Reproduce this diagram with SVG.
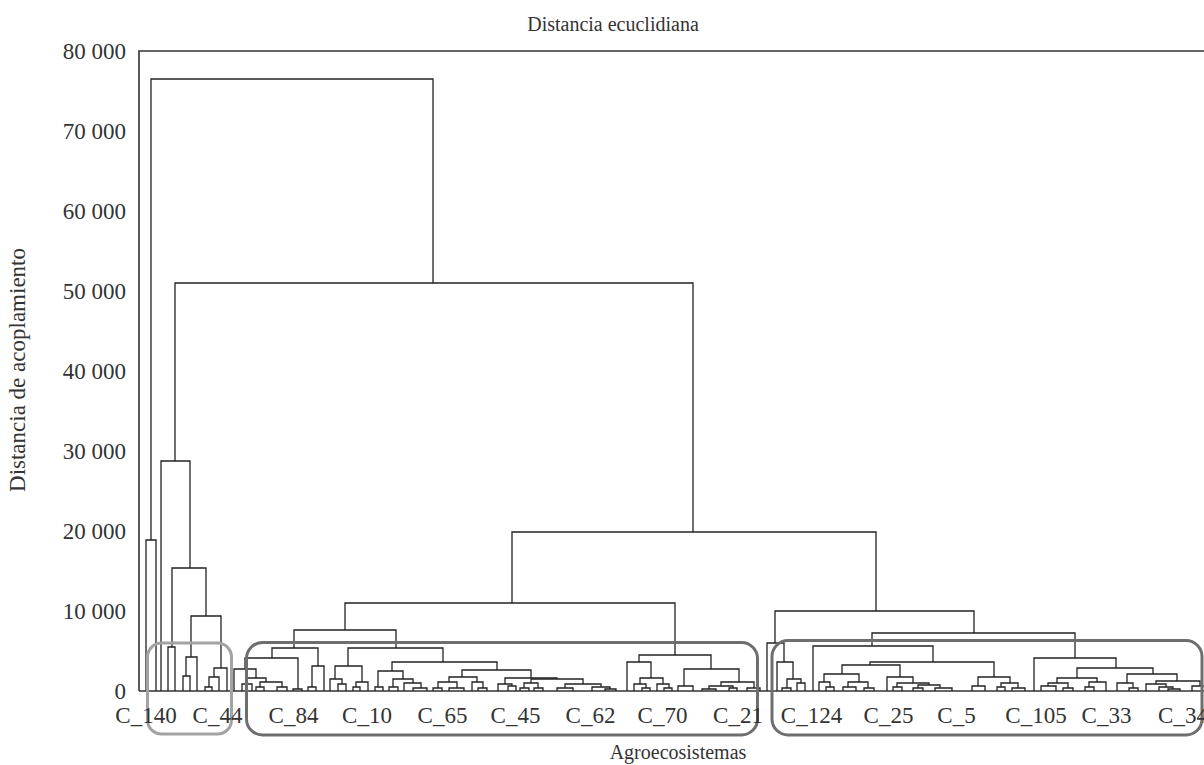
<svg xmlns="http://www.w3.org/2000/svg" width="1204" height="765" viewBox="0 0 1204 765">
<style>
.d{fill:none;stroke:#222;stroke-width:1.3;stroke-linejoin:miter}
.ax{fill:none;stroke:#333;stroke-width:1.6}
.t{font-family:"Liberation Serif",serif;fill:#333}
.tk{font-size:23px;text-anchor:end}
.lb{font-size:23px;text-anchor:middle}
.ti{font-size:20px;text-anchor:middle}
.yl{font-size:23px;text-anchor:middle}
.b1{fill:none;stroke:#a3a3a3;stroke-width:3}
.b2{fill:none;stroke:#6e6e6e;stroke-width:3}
</style>
<rect width="1204" height="765" fill="#fff"/>
<g id="axes">
<path class="ax" d="M139 691V51H1204"/>
<path class="ax" d="M139 691H1204"/>
</g>
<g id="ticks" class="t tk">
<text x="126" y="699">0</text>
<text x="126" y="619">10 000</text>
<text x="126" y="539">20 000</text>
<text x="126" y="459">30 000</text>
<text x="126" y="379">40 000</text>
<text x="126" y="299">50 000</text>
<text x="126" y="219">60 000</text>
<text x="126" y="139">70 000</text>
<text x="126" y="59">80 000</text>
</g>
<g id="titles" class="t">
<text class="ti" x="613" y="31">Distancia ecuclidiana</text>
<text class="ti" x="678" y="759">Agroecosistemas</text>
<text class="yl" transform="translate(25,370) rotate(-90)">Distancia de acoplamiento</text>
</g>
<g id="connectors" class="d">
<path d="M151 540V79H433V283"/>
<path d="M146 691V540H156V691"/>
<path d="M175 461V283H693V532"/>
<path d="M161 691V461H190V568"/>
<path d="M172 647V568H206V616"/>
<path d="M168 691V647H175V691"/>
<path d="M191 657V616H221V668"/>
<path d="M186 676V657H197V691"/>
<path d="M183 691V676H190V691"/>
<path d="M214 677V668H227V691"/>
<path d="M209 687V677H219V691"/>
<path d="M205 691V687H212V691"/>
<path d="M512 603V532H876V611"/>
<path d="M345 630V603H675V655"/>
<path d="M294 648V630H396V648"/>
<path d="M272 658V648H318V666"/>
<path d="M245 669V658H298V689"/>
<path d="M293 691V689H302V691"/>
<path d="M234 691V669H256V678"/>
<path d="M247 684V678H266V682"/>
<path d="M242 691V684H252V691"/>
<path d="M260 687V682H282V687"/>
<path d="M256 691V687H264V691"/>
<path d="M277 691V687H287V691"/>
<path d="M312 687V666H324V691"/>
<path d="M308 691V687H316V691"/>
<path d="M348 666V648H443V662"/>
<path d="M335 679V666H362V682"/>
<path d="M330 691V679H342V684"/>
<path d="M338 691V684H346V691"/>
<path d="M356 687V682H368V691"/>
<path d="M353 691V687H360V691"/>
<path d="M392 671V662H497V670"/>
<path d="M378 687V671H403V679"/>
<path d="M375 691V687H383V691"/>
<path d="M393 687V679H413V683"/>
<path d="M389 691V687H398V691"/>
<path d="M404 691V683H421V688"/>
<path d="M413 691V688H427V691"/>
<path d="M462 677V670H531V678"/>
<path d="M449 682V677H477V682"/>
<path d="M438 688V682H457V688"/>
<path d="M433 691V688H442V691"/>
<path d="M449 691V688H464V691"/>
<path d="M472 691V682H483V688"/>
<path d="M478 691V688H487V691"/>
<path d="M505 684V678H557V679"/>
<path d="M498 691V684H512V686"/>
<path d="M508 691V686H516V691"/>
<path d="M531 683V679H583V684"/>
<path d="M524 688V683H538V688"/>
<path d="M520 691V688H529V691"/>
<path d="M534 691V688H543V691"/>
<path d="M565 688V684H601V687"/>
<path d="M557 691V688H573V691"/>
<path d="M592 691V687H610V689"/>
<path d="M605 691V689H616V691"/>
<path d="M639 662V655H711V669"/>
<path d="M627 691V662H651V678"/>
<path d="M640 684V678H663V684"/>
<path d="M634 691V684H646V688"/>
<path d="M642 691V688H650V691"/>
<path d="M657 691V684H669V688"/>
<path d="M664 691V688H672V691"/>
<path d="M684 686V669H739V682"/>
<path d="M678 691V686H693V691"/>
<path d="M721 686V682H754V688"/>
<path d="M709 689V686H733V688"/>
<path d="M702 691V689H716V691"/>
<path d="M729 691V688H737V691"/>
<path d="M747 691V688H760V691"/>
<path d="M775 643V611H974V633"/>
<path d="M767 691V643H784V662"/>
<path d="M777 691V662H793V679"/>
<path d="M787 688V679H801V683"/>
<path d="M782 691V688H791V691"/>
<path d="M797 691V683H805V691"/>
<path d="M872 646V633H1075V658"/>
<path d="M813 691V646H933V662"/>
<path d="M870 665V662H994V677"/>
<path d="M842 674V665H900V677"/>
<path d="M824 682V674H859V682"/>
<path d="M819 691V682H830V687"/>
<path d="M826 691V687H834V691"/>
<path d="M848 687V682H868V688"/>
<path d="M843 691V687H856V691"/>
<path d="M864 691V688H874V691"/>
<path d="M887 691V677H913V683"/>
<path d="M897 687V683H929V685"/>
<path d="M893 691V687H902V691"/>
<path d="M918 688V685H940V688"/>
<path d="M913 691V688H923V691"/>
<path d="M935 691V688H952V691"/>
<path d="M978 686V677H1010V683"/>
<path d="M972 691V686H985V691"/>
<path d="M1001 687V683H1018V688"/>
<path d="M997 691V687H1005V691"/>
<path d="M1012 691V688H1025V691"/>
<path d="M1034 691V658H1116V668"/>
<path d="M1077 678V668H1153V674"/>
<path d="M1057 683V678H1097V682"/>
<path d="M1048 686V683H1068V688"/>
<path d="M1041 691V686H1056V691"/>
<path d="M1063 691V688H1073V691"/>
<path d="M1089 687V682H1106V691"/>
<path d="M1085 691V687H1094V691"/>
<path d="M1127 683V674H1177V681"/>
<path d="M1117 691V683H1133V688"/>
<path d="M1129 691V688H1138V691"/>
<path d="M1156 684V681H1200V686"/>
<path d="M1146 691V684H1166V687"/>
<path d="M1159 691V687H1173V689"/>
<path d="M1168 691V689H1180V691"/>
<path d="M1192 691V686H1208V691"/>
</g>
<g id="group-a"><rect class="b1" x="147.5" y="643" width="84" height="91" rx="14"/></g>
<g id="group-b"><rect class="b2" x="246.5" y="642.5" width="511" height="92.5" rx="16"/></g>
<g id="group-c"><rect class="b2" x="772" y="640.5" width="430" height="94.5" rx="16"/></g>
<g id="labels" class="t lb">
<text x="146" y="723">C_140</text>
<text x="217.5" y="723">C_44</text>
<text x="293.5" y="723">C_84</text>
<text x="367" y="723">C_10</text>
<text x="442.5" y="723">C_65</text>
<text x="515.5" y="723">C_45</text>
<text x="590.5" y="723">C_62</text>
<text x="662.5" y="723">C_70</text>
<text x="738" y="723">C_21</text>
<text x="811.5" y="723">C_124</text>
<text x="888.5" y="723">C_25</text>
<text x="956.5" y="723">C_5</text>
<text x="1036" y="723">C_105</text>
<text x="1106.5" y="723">C_33</text>
<text x="1183" y="723">C_34</text>
</g>
</svg>
